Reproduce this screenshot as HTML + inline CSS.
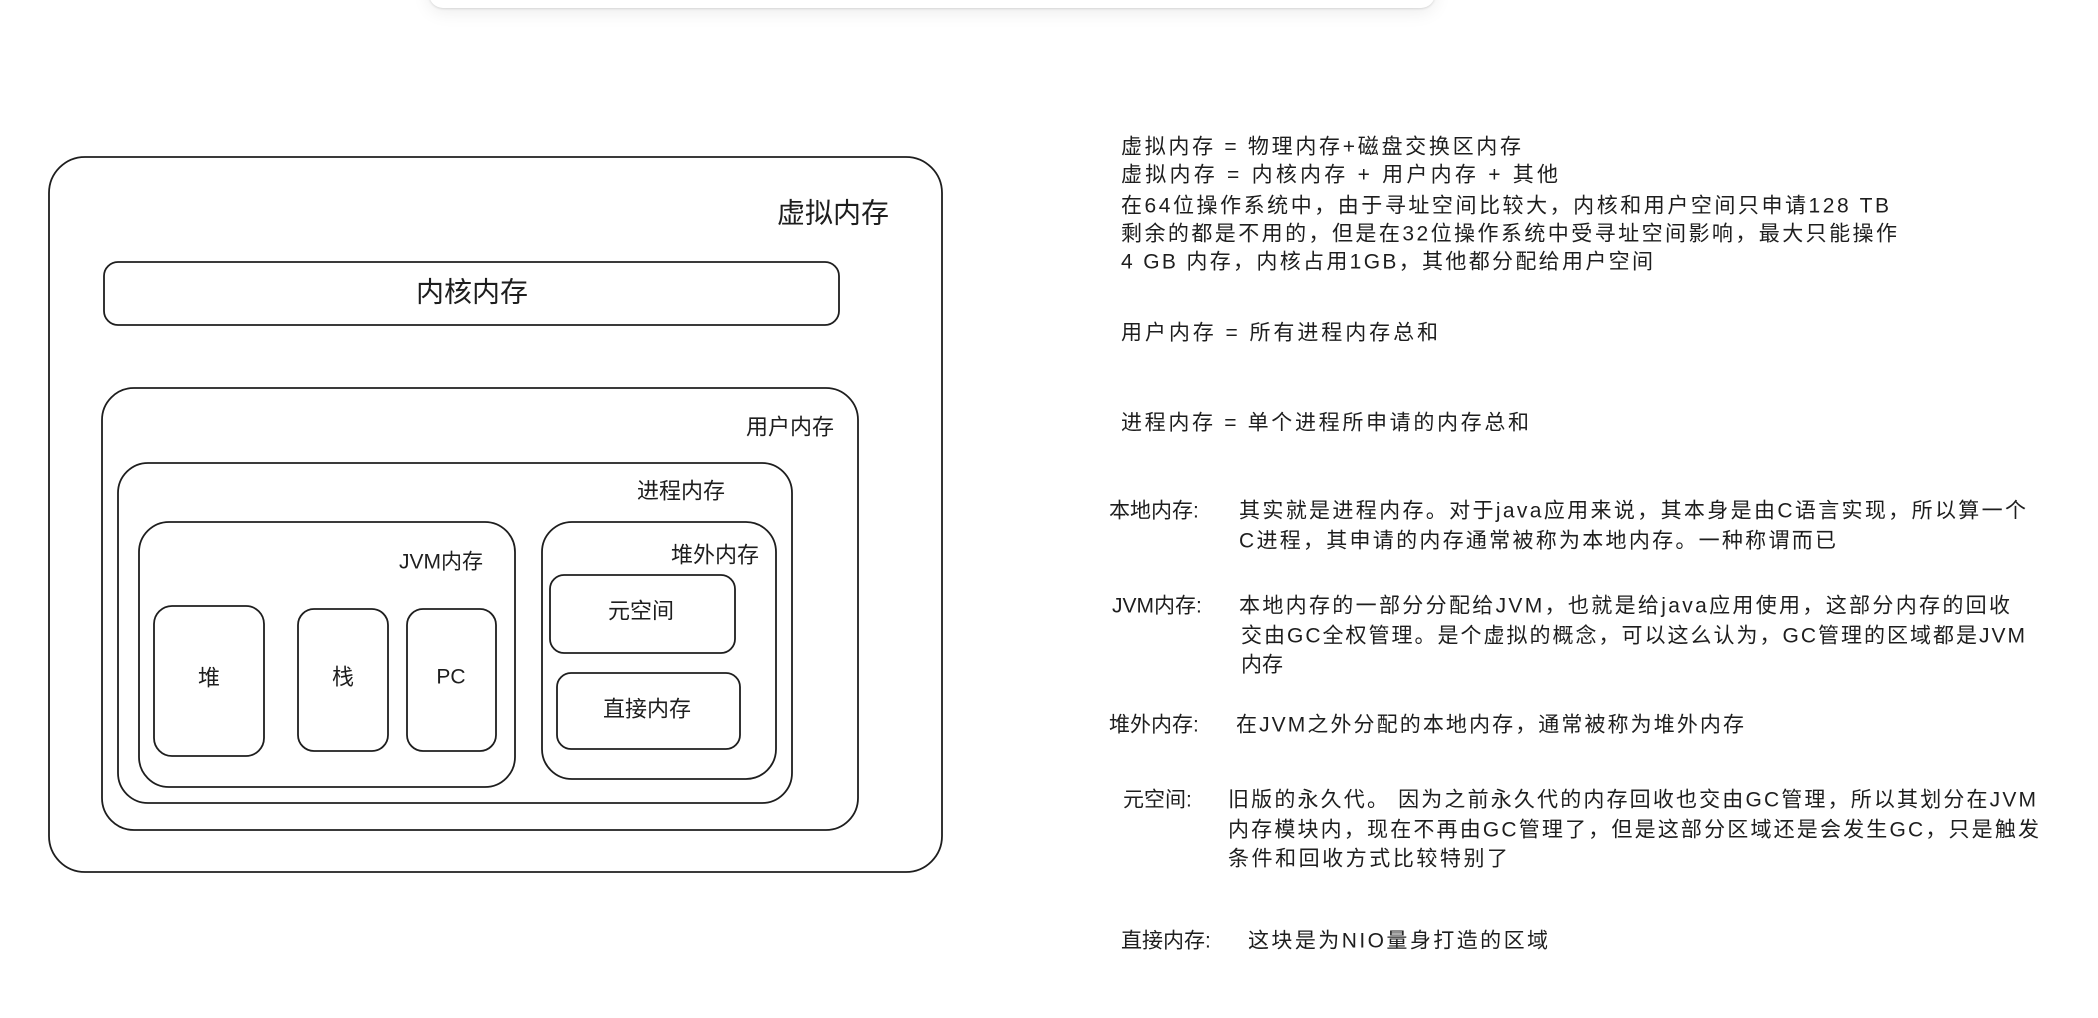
<!DOCTYPE html>
<html><head><meta charset="utf-8"><style>
html,body{margin:0;padding:0;background:#fff;width:2098px;height:1018px;overflow:hidden}
svg text{font-family:"Liberation Sans","Noto Sans CJK SC",sans-serif;fill:#1e1e1e}
.card{position:absolute;left:429px;top:-24px;width:1006px;height:32px;background:#fff;border-radius:0 0 14px 14px;box-shadow:0 4px 18px rgba(0,0,0,0.08),0 1px 2px rgba(0,0,0,0.12)}
</style></head><body>
<div class="card"></div>
<svg width="2098" height="1018" style="position:absolute;left:0;top:0" xmlns="http://www.w3.org/2000/svg">
<g fill="none" stroke="#1e1e1e" stroke-width="1.8">
<rect x="49" y="157" width="893" height="715" rx="36"/>
<rect x="104" y="262" width="735" height="63" rx="14"/>
<rect x="102" y="388" width="756" height="442" rx="32"/>
<rect x="118" y="463" width="674" height="340" rx="30"/>
<rect x="139" y="522" width="376" height="265" rx="30"/>
<rect x="154" y="606" width="110" height="150" rx="18"/>
<rect x="298" y="609" width="90" height="142" rx="16"/>
<rect x="407" y="609" width="89" height="142" rx="16"/>
<rect x="542" y="522" width="234" height="257" rx="30"/>
<rect x="550" y="575" width="185" height="78" rx="14"/>
<rect x="557" y="673" width="183" height="76" rx="14"/>
</g>
<g dominant-baseline="central">
<text x="777" y="213" font-size="28">虚拟内存</text>
<text x="472" y="292" font-size="28" text-anchor="middle">内核内存</text>
<text x="834" y="427" font-size="22" text-anchor="end">用户内存</text>
<text x="725" y="491" font-size="22" text-anchor="end">进程内存</text>
<text x="483" y="562" font-size="21" text-anchor="end">JVM内存</text>
<text x="759" y="555" font-size="22" text-anchor="end">堆外内存</text>
<text x="209" y="678" font-size="22" text-anchor="middle">堆</text>
<text x="343" y="677" font-size="22" text-anchor="middle">栈</text>
<text x="451" y="677" font-size="21" text-anchor="middle">PC</text>
<text x="641" y="611" font-size="22" text-anchor="middle">元空间</text>
<text x="647" y="709" font-size="22" text-anchor="middle">直接内存</text>
</g>
<g dominant-baseline="central" font-size="21">
<text x="1121" y="147" textLength="400" lengthAdjust="spacing">虚拟内存 = 物理内存+磁盘交换区内存</text>
<text x="1121" y="175" textLength="437" lengthAdjust="spacing">虚拟内存 = 内核内存 + 用户内存 + 其他</text>
<text x="1121" y="206" textLength="768" lengthAdjust="spacing">在64位操作系统中，由于寻址空间比较大，内核和用户空间只申请128 TB</text>
<text x="1121" y="234" textLength="776" lengthAdjust="spacing">剩余的都是不用的，但是在32位操作系统中受寻址空间影响，最大只能操作</text>
<text x="1121" y="262" textLength="532" lengthAdjust="spacing">4 GB 内存，内核占用1GB，其他都分配给用户空间</text>
<text x="1121" y="333" textLength="317" lengthAdjust="spacing">用户内存 = 所有进程内存总和</text>
<text x="1121" y="423" textLength="408" lengthAdjust="spacing">进程内存 = 单个进程所申请的内存总和</text>
<text x="1109" y="511">本地内存:</text>
<text x="1239" y="511" textLength="787" lengthAdjust="spacing">其实就是进程内存。对于java应用来说，其本身是由C语言实现，所以算一个</text>
<text x="1239" y="541" textLength="597" lengthAdjust="spacing">C进程，其申请的内存通常被称为本地内存。一种称谓而已</text>
<text x="1112" y="606">JVM内存:</text>
<text x="1239" y="606" textLength="771" lengthAdjust="spacing">本地内存的一部分分配给JVM，也就是给java应用使用，这部分内存的回收</text>
<text x="1241" y="636" textLength="784" lengthAdjust="spacing">交由GC全权管理。是个虚拟的概念，可以这么认为，GC管理的区域都是JVM</text>
<text x="1241" y="665">内存</text>
<text x="1109" y="725">堆外内存:</text>
<text x="1236" y="725" textLength="508" lengthAdjust="spacing">在JVM之外分配的本地内存，通常被称为堆外内存</text>
<text x="1123" y="800">元空间:</text>
<text x="1228" y="800" textLength="808" lengthAdjust="spacing">旧版的永久代。 因为之前永久代的内存回收也交由GC管理，所以其划分在JVM</text>
<text x="1228" y="830" textLength="811" lengthAdjust="spacing">内存模块内，现在不再由GC管理了，但是这部分区域还是会发生GC，只是触发</text>
<text x="1228" y="859" textLength="280" lengthAdjust="spacing">条件和回收方式比较特别了</text>
<text x="1121" y="941">直接内存:</text>
<text x="1248" y="941" textLength="300" lengthAdjust="spacing">这块是为NIO量身打造的区域</text>
</g>
</svg>
</body></html>
